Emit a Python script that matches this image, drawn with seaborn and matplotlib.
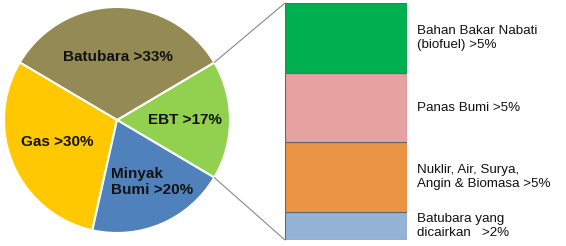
import matplotlib
matplotlib.use("Agg")
import matplotlib.pyplot as plt
import seaborn as sns
import numpy as np
from matplotlib.patches import ConnectionPatch

sns.set_theme(style="white")
plt.rcParams['font.family'] = ['Liberation Sans', 'DejaVu Sans']

# Pie data (energy mix)
pie_labels = ["EBT >17%", "Batubara >33%", "Gas >30%", "Minyak\nBumi >20%"]
pie_values = [17, 33, 30, 20]
pie_colors = ["#92D050", "#948A54", "#FFC800", "#4F81BD"]

# Breakdown of EBT
bar_labels = ["Batubara yang\ndicairkan   >2%",
              "Nuklir, Air, Surya,\nAngin & Biomasa >5%",
              "Panas Bumi >5%",
              "Bahan Bakar Nabati\n(biofuel) >5%"]
bar_values = [2, 5, 5, 5]
bar_colors = ["#95B3D7", "#EB9446", "#E6A1A1", "#00B050"]

W, H = 566, 246
fig = plt.figure(figsize=(W / 100, H / 100), dpi=100)
ax = fig.add_axes([0, 0, 1, 1])

cx, cy, r = 117, 126, 113
start = -pie_values[0] / 100 * 360 / 2
wedges, _ = ax.pie(pie_values, colors=pie_colors, startangle=start,
                   center=(cx, cy), radius=r, counterclock=True,
                   wedgeprops=dict(edgecolor="white", linewidth=1.5))
ax.set_xlim(0, W)
ax.set_ylim(0, H)
ax.set_aspect("equal")
ax.axis("off")

label_pos = [(185, 126, "center"), (118, 189, "center"), (57, 104, "center"), (111, 64, "left")]
for (x, y, ha), lab in zip(label_pos, pie_labels):
    ax.text(x, y, lab, ha=ha, va="center", fontsize=11, fontweight="bold",
            color="#111111", linespacing=1.15)

# Stacked bar
bx0, bx1 = 285, 407
by0, by1 = 6, 243
ax2 = fig.add_axes([bx0 / W, by0 / H, (bx1 - bx0) / W, (by1 - by0) / H])
ax2.set_xlim(-0.5, 0.5)
ax2.set_ylim(0, sum(bar_values))
ax2.axis("off")
bottom = 0
for v, c, lab in zip(bar_values, bar_colors, bar_labels):
    ax2.bar(0, v, bottom=bottom, width=1.0, color=c,
            edgecolor="#666666", linewidth=0.8)
    ax.text(417, by0 + (bottom + v / 2) / sum(bar_values) * (by1 - by0), lab,
            ha="left", va="center", fontsize=9.6, color="#111111", linespacing=1.25)
    bottom += v

# Connector lines
a = np.deg2rad(start)
p_bot = (cx + r * np.cos(a), cy + r * np.sin(a))
p_top = (cx + r * np.cos(-a), cy + r * np.sin(-a))
for p, yb in [(p_top, sum(bar_values)), (p_bot, 0)]:
    con = ConnectionPatch(xyA=p, coordsA=ax.transData, xyB=(-0.5, yb),
                          coordsB=ax2.transData, color="#888888", linewidth=0.8)
    fig.add_artist(con)

fig.savefig("out.png", dpi=100)
